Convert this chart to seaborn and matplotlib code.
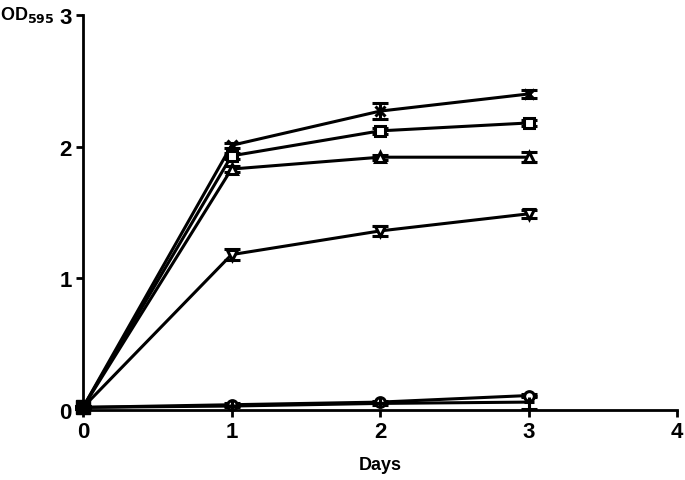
import numpy as np
import pandas as pd
import matplotlib
matplotlib.use("Agg")
import matplotlib.pyplot as plt
import seaborn as sns

days = [0, 1, 2, 3]
series_names = ["cross", "square", "tri_up", "tri_down", "circle", "plus"]
cross_od = [0.02, 2.01, 2.27, 2.40]
square_od = [0.02, 1.93, 2.12, 2.18]
tri_up_od = [0.02, 1.83, 1.92, 1.92]
tri_down_od = [0.02, 1.18, 1.36, 1.49]
circle_od = [0.02, 0.04, 0.06, 0.11]
plus_od = [0.02, 0.03, 0.05, 0.06]
cross_err = [0.01, 0.02, 0.06, 0.03]
square_err = [0.01, 0.02, 0.02, 0.02]
tri_up_err = [0.01, 0.02, 0.02, 0.04]
tri_down_err = [0.01, 0.04, 0.04, 0.03]
circle_err = [0.0, 0.01, 0.01, 0.01]
plus_err = [0.0, 0.01, 0.01, 0.05]

values = [cross_od, square_od, tri_up_od, tri_down_od, circle_od, plus_od]
errors = [cross_err, square_err, tri_up_err, tri_down_err, circle_err, plus_err]
markers = ["x", "s", "^", "v", "o", "+"]

rows = []
for name, vals, errs in zip(series_names, values, errors):
    for d, v, e in zip(days, vals, errs):
        rows.append({"series": name, "day": d, "od": v, "err": e})
df = pd.DataFrame(rows)

sns.set_style("ticks")
plt.rcParams["font.family"] = ["Liberation Sans", "DejaVu Sans"]
plt.rcParams["font.weight"] = "bold"
plt.rcParams["text.color"] = "black"
plt.rcParams["axes.labelcolor"] = "black"

fig = plt.figure(figsize=(6.85, 4.81), dpi=100)
ax = fig.add_axes([83 / 685, 70 / 481, 594 / 685, 395 / 481])

for name, mk in zip(series_names, markers):
    sub = df[df["series"] == name]
    ax.errorbar(sub["day"], sub["od"], yerr=sub["err"], fmt="none",
                ecolor="black", elinewidth=2.2, capsize=6, capthick=2.2, zorder=2)
    sns.lineplot(data=sub, x="day", y="od", color="black", marker=mk,
                 linewidth=2.2, markersize=7, markeredgewidth=2.2,
                 markerfacecolor="white", markeredgecolor="black",
                 ax=ax, zorder=3)

# filled blob at day 0
ax.plot([0], [0.02], marker="s", color="black", markersize=10, zorder=4)

ax.set_xlim(0, 4)
ax.set_ylim(0, 3)
ax.set_xticks([0, 1, 2, 3, 4])
ax.set_yticks([0, 1, 2, 3])
ax.tick_params(axis="both", width=2, length=5, labelsize=16, colors="black",
               pad=3)
for lab in ax.get_xticklabels() + ax.get_yticklabels():
    lab.set_fontweight("bold")
for s in ["left", "bottom"]:
    ax.spines[s].set_linewidth(2)
    ax.spines[s].set_color("black")
sns.despine(ax=ax)
for ln in ax.lines:
    ln.set_clip_on(False)
for c in ax.collections:
    c.set_clip_on(False)

ax.set_xlabel("Days", fontsize=13, fontweight="bold", labelpad=10,
              color="black")
ax.set_ylabel("")
fig.text(0, 0.968, r"OD$_{\mathbf{595}}$", fontsize=13, fontweight="bold",
         ha="left", va="center", color="black")

fig.savefig("out.png", dpi=100)
